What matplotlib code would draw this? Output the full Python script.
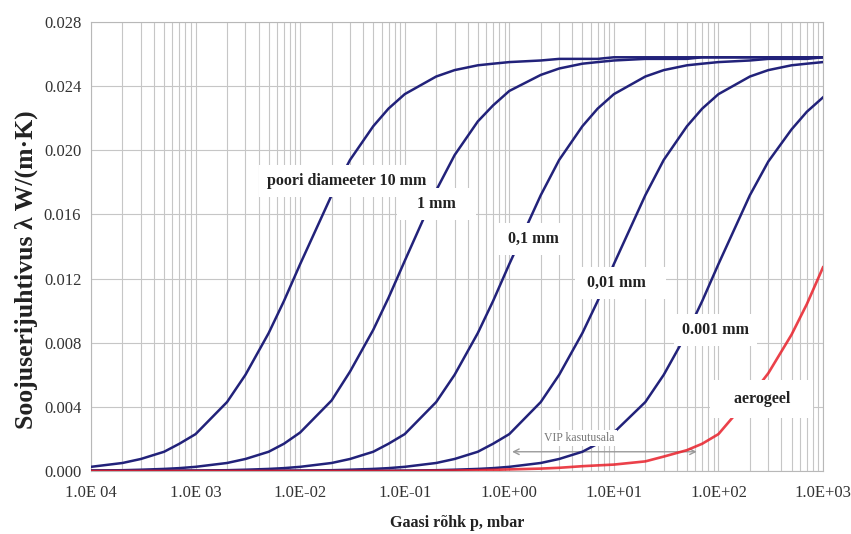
import numpy as np
import matplotlib
matplotlib.use('Agg')
import matplotlib.pyplot as plt
from matplotlib.ticker import LogLocator, NullFormatter

plt.rcParams['font.family'] = ['Liberation Serif', 'DejaVu Serif']

# pressure grid, mbar
p = [1e-4, 2e-4, 3e-4, 5e-4, 7e-4,
     1e-3, 2e-3, 3e-3, 5e-3, 7e-3,
     1e-2, 2e-2, 3e-2, 5e-2, 7e-2,
     0.1, 0.2, 0.3, 0.5, 0.7,
     1, 2, 3, 5, 7,
     10, 20, 30, 50, 70,
     100, 200, 300, 500, 700,
     1000]

# thermal conductivity, W/(m*K)
pore_10mm = [0.00026, 0.0005, 0.00075, 0.0012, 0.0017,
             0.0023, 0.0043, 0.0060, 0.0086, 0.0106,
             0.0129, 0.0172, 0.0194, 0.0215, 0.0226,
             0.0235, 0.0246, 0.0250, 0.0253, 0.0254,
             0.0255, 0.0256, 0.0257, 0.0257, 0.0257,
             0.0258, 0.0258, 0.0258, 0.0258, 0.0258,
             0.0258, 0.0258, 0.0258, 0.0258, 0.0258,
             0.0258]
pore_1mm = [0.00003, 0.00005, 0.00008, 0.00013, 0.00018,
            0.00026, 0.0005, 0.00075, 0.0012, 0.0017,
            0.0024, 0.0044, 0.0062, 0.0088, 0.0108,
            0.0131, 0.0175, 0.0197, 0.0218, 0.0228,
            0.0237, 0.0247, 0.0251, 0.0254, 0.0255,
            0.0256, 0.0257, 0.0257, 0.0257, 0.0258,
            0.0258, 0.0258, 0.0258, 0.0258, 0.0258,
            0.0258]
pore_01mm = [0.0, 0.00001, 0.00001, 0.00001, 0.00002,
             0.00003, 0.00005, 0.00008, 0.00013, 0.00018,
             0.00026, 0.0005, 0.00075, 0.0012, 0.0017,
             0.0023, 0.0043, 0.0060, 0.0086, 0.0106,
             0.0129, 0.0172, 0.0194, 0.0215, 0.0226,
             0.0235, 0.0246, 0.0250, 0.0253, 0.0254,
             0.0255, 0.0256, 0.0257, 0.0257, 0.0257,
             0.0258]
pore_001mm = [0.0, 0.0, 0.0, 0.0, 0.0,
              0.0, 0.00001, 0.00001, 0.00001, 0.00002,
              0.00003, 0.00005, 0.00008, 0.00013, 0.00018,
              0.00026, 0.0005, 0.00075, 0.0012, 0.0017,
              0.0023, 0.0043, 0.0060, 0.0086, 0.0106,
              0.0129, 0.0172, 0.0194, 0.0215, 0.0226,
              0.0235, 0.0246, 0.0250, 0.0253, 0.0254,
              0.0255]
pore_0001mm = [0.0, 0.0, 0.0, 0.0, 0.0,
               0.0, 0.0, 0.0, 0.0, 0.0,
               0.0, 0.00001, 0.00001, 0.00001, 0.00002,
               0.00003, 0.00005, 0.00008, 0.00013, 0.00018,
               0.00026, 0.0005, 0.00075, 0.0012, 0.0017,
               0.0024, 0.0043, 0.0060, 0.0086, 0.0106,
               0.0129, 0.0172, 0.0193, 0.0213, 0.0224,
               0.0233]
aerogel = [0.0, 0.0, 0.0, 0.0, 0.0,
           0.0, 0.0, 0.0, 0.0, 0.0,
           0.0, 0.0, 0.0, 0.0, 0.0,
           0.0, 0.00002, 0.00003, 0.00005, 0.00007,
           0.0001, 0.00015, 0.0002, 0.0003, 0.00035,
           0.0004, 0.0006, 0.0009, 0.0013, 0.0017,
           0.0023, 0.0046, 0.0061, 0.0085, 0.0104,
           0.0127]

xticks = [1e-4, 1e-3, 1e-2, 1e-1, 1, 10, 100, 1000]
xticklabels = ['1.0E 04', '1.0E 03', '1.0E-02', '1.0E-01', '1.0E+00', '1.0E+01', '1.0E+02', '1.0E+03']
yticks = [0.000, 0.004, 0.008, 0.012, 0.016, 0.020, 0.024, 0.028]

navy = '#22227a'
txt = '#222222'

fig = plt.figure(figsize=(8.51, 5.34), dpi=100)
ax = fig.add_axes([91/851, 1-471/534, 732/851, 449/534])
ax.set_xscale('log')
ax.set_xlim(1e-4, 1e3)
ax.set_ylim(0, 0.028)

ax.set_xticks(xticks)
ax.set_xticklabels(xticklabels)
ax.xaxis.set_minor_locator(LogLocator(base=10, subs=np.arange(2, 10)))
ax.xaxis.set_minor_formatter(NullFormatter())
ax.set_yticks(yticks)
ax.set_yticklabels([f'{v:.3f}' for v in yticks])
ax.tick_params(which='both', length=0, labelsize=12, labelcolor='#333333')
ax.tick_params(axis='x', pad=10)
ax.tick_params(axis='y', pad=7)

ax.grid(which='both', axis='x', color='#c6c6c6', lw=0.8)
ax.grid(which='major', axis='y', color='#c6c6c6', lw=0.8)
ax.set_axisbelow(True)
for s in ax.spines.values():
    s.set_color('#b8b8b8')
    s.set_linewidth(0.8)

for ser in [pore_10mm, pore_1mm, pore_01mm, pore_001mm, pore_0001mm]:
    ax.plot(p, ser, color=navy, lw=1.8, zorder=3)
ax.plot(p, aerogel, color='#e8202a', lw=1.9, alpha=0.85, zorder=4)

# VIP range arrow
ax.annotate('', xy=(1.0, 0.0012), xytext=(66, 0.0012),
            arrowprops=dict(arrowstyle='<->', color='#9a9a9a', lw=1.0), zorder=2)
ax.text(4.7, 0.00205, 'VIP kasutusala', fontsize=8.5, color='#777777', ha='center', va='center',
        bbox=dict(boxstyle='square,pad=0.15', fc='white', ec='none'), zorder=5)

box = dict(boxstyle='square,pad=0.5', fc='white', ec='none')
ax.text(0.028, 0.0181, 'poori diameeter 10 mm', fontsize=11.5, fontweight='bold', color=txt,
        ha='center', va='center', bbox=box, zorder=5)
ax.text(0.2, 0.01665, '   1 mm   ', fontsize=11.5, fontweight='bold', color=txt,
        ha='center', va='center', bbox=box, zorder=5)
ax.text(1.7, 0.01447, ' 0,1 mm ', fontsize=11.5, fontweight='bold', color=txt,
        ha='center', va='center', bbox=box, zorder=5)
ax.text(11.5, 0.01172, ' 0,01 mm   ', fontsize=11.5, fontweight='bold', color=txt,
        ha='center', va='center', bbox=box, zorder=5)
ax.text(93, 0.0088, '0.001 mm', fontsize=11.5, fontweight='bold', color=txt,
        ha='center', va='center', bbox=box, zorder=5)
ax.text(260, 0.0045, '   aerogeel   ', fontsize=11.5, fontweight='bold', color=txt,
        ha='center', va='center', bbox=dict(boxstyle='square,pad=0.7', fc='white', ec='none'), zorder=5)

fig.text(26/851, 1-270/534, 'Soojuserijuhtivus λ W/(m·K)', rotation=90, fontsize=18.5,
         fontweight='bold', ha='center', va='center', color=txt)
fig.text(457/851, 1-523/534, 'Gaasi rõhk p, mbar', fontsize=11.5, fontweight='bold',
         ha='center', va='center', color=txt)

fig.savefig('out.png', dpi=100)
